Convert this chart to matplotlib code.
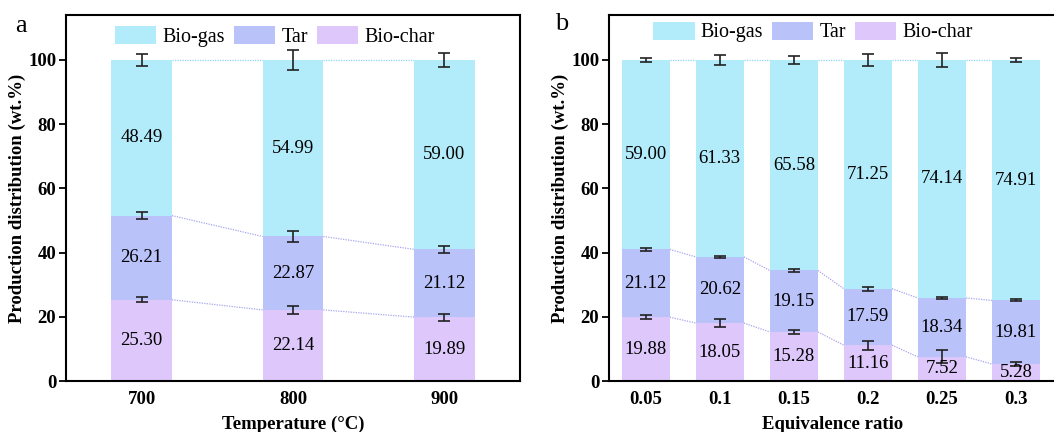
import matplotlib
matplotlib.use("Agg")
import matplotlib.pyplot as plt
from matplotlib.patches import Patch
import numpy as np

plt.rcParams['font.family'] = ['Liberation Serif', 'DejaVu Serif']
plt.rcParams['mathtext.fontset'] = 'stix'

# ---------------- data ----------------
temps = [700, 800, 900]
temp_char = [25.30, 22.14, 19.89]
temp_tar = [26.21, 22.87, 21.12]
temp_gas = [48.49, 54.99, 59.00]
temp_char_err = [0.75, 1.2, 1.05]
temp_tar_err = [1.0, 1.8, 1.1]
temp_gas_err = [1.9, 3.0, 2.3]

er = [0.05, 0.1, 0.15, 0.2, 0.25, 0.3]
er_labels = ['0.05', '0.1', '0.15', '0.2', '0.25', '0.3']
er_char = [19.88, 18.05, 15.28, 11.16, 7.52, 5.28]
er_tar = [21.12, 20.62, 19.15, 17.59, 18.34, 19.81]
er_gas = [59.00, 61.33, 65.58, 71.25, 74.14, 74.91]
er_char_err = [0.6, 1.25, 0.7, 1.35, 2.0, 0.7]
er_tar_err = [0.4, 0.3, 0.5, 0.6, 0.3, 0.3]
er_gas_err = [0.7, 1.5, 1.3, 2.0, 2.2, 0.5]

series_names = ['Bio-gas', 'Tar', 'Bio-char']
c_gas = '#B2EBFA'
c_tar = '#BAC2FA'
c_char = '#DEC8FB'
line_gas = '#8FD3F2'
line_low = '#A7A6EE'

FS = 13.5
LFS = 14.5

fig = plt.figure(figsize=(10.54, 4.32), dpi=100)
ax_a = fig.add_axes([66/1054, 51/432, 454/1054, 366/432])
ax_b = fig.add_axes([609/1054, 51/432, 447/1054, 366/432])


def draw(ax, x, char, tar, gas, ce, te, ge, width, xlim, xticklabels, xlabel):
    x = np.asarray(x, dtype=float)
    char = np.asarray(char); tar = np.asarray(tar); gas = np.asarray(gas)
    b_tar = char
    b_gas = char + tar
    top = char + tar + gas
    ax.bar(x, char, width, color=c_char, zorder=2)
    ax.bar(x, tar, width, bottom=b_tar, color=c_tar, zorder=2)
    ax.bar(x, gas, width, bottom=b_gas, color=c_gas, zorder=2)
    ekw = dict(fmt='none', ecolor='#222222', elinewidth=1.2, capsize=4.5,
               capthick=1.2, zorder=4)
    ax.errorbar(x, char, yerr=ce, **ekw)
    ax.errorbar(x, b_gas, yerr=te, **ekw)
    ax.errorbar(x, np.round(top), yerr=ge, **ekw)
    # connecting dotted lines
    for yv, col in [(np.round(top), line_gas), (b_gas, line_low), (char, line_low)]:
        for i in range(len(x) - 1):
            ax.plot([x[i] + width/2, x[i+1] - width/2], [yv[i], yv[i+1]],
                    ls=(0, (1, 1)), lw=0.9, color=col, zorder=1)
    # value labels
    for i in range(len(x)):
        ax.text(x[i], char[i]/2, f'{char[i]:.2f}', ha='center', va='center',
                fontsize=13.5, zorder=5)
        ax.text(x[i], b_tar[i] + tar[i]/2, f'{tar[i]:.2f}', ha='center',
                va='center', fontsize=13.5, zorder=5)
        ax.text(x[i], b_gas[i] + gas[i]/2, f'{gas[i]:.2f}', ha='center',
                va='center', fontsize=13.5, zorder=5)
    ax.set_xlim(*xlim)
    ax.set_ylim(0, 114)
    ax.set_yticks([0, 20, 40, 60, 80, 100])
    ax.set_xticks(x)
    ax.set_xticklabels(xticklabels)
    for lab in ax.get_xticklabels() + ax.get_yticklabels():
        lab.set_fontweight('bold')
        lab.set_fontsize(FS)
    ax.tick_params(axis='x', direction='in', length=5, width=1.3, pad=7)
    ax.tick_params(axis='y', direction='out', length=5, width=1.3, pad=2)
    for sp in ax.spines.values():
        sp.set_linewidth(1.5)
    ax.set_xlabel(xlabel, fontsize=FS, fontweight='bold', labelpad=6)
    ax.set_ylabel('Production distribution (wt.%)', fontsize=FS,
                  fontweight='bold', labelpad=1.5)
    handles = [Patch(facecolor=c_gas), Patch(facecolor=c_tar),
               Patch(facecolor=c_char)]
    return handles


lkw = dict(loc='upper left', ncol=3, frameon=False, fontsize=LFS, borderpad=0,
           borderaxespad=0, handlelength=2.05, handleheight=1.0,
           handletextpad=0.3, columnspacing=0.45)

h = draw(ax_a, temps, temp_char, temp_tar, temp_gas, temp_char_err,
         temp_tar_err, temp_gas_err, 40, (650, 950), [str(t) for t in temps],
         'Temperature (\u00b0C)')
ax_a.legend(h, series_names, bbox_to_anchor=(0.108, 0.97), **lkw)
ax_a.text(-0.1, 0.97, 'a', transform=ax_a.transAxes, fontsize=19,
          ha='center', va='center')

x_right = 0.3 + (1056 - 1016) / 74.06 * 0.05
h = draw(ax_b, er, er_char, er_tar, er_gas, er_char_err, er_tar_err,
         er_gas_err, 0.0325, (0.0252, x_right), er_labels, 'Equivalence ratio')
ax_b.legend(h, series_names, bbox_to_anchor=(0.099, 0.982), **lkw)
ax_b.text(-0.105, 0.975, 'b', transform=ax_b.transAxes, fontsize=19,
          ha='center', va='center')

fig.savefig('out.png', dpi=100)
